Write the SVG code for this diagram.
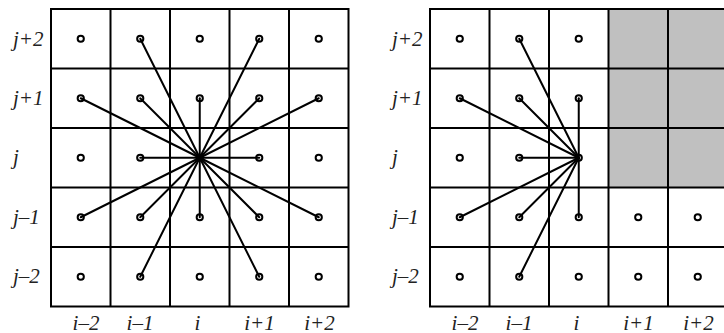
<svg xmlns="http://www.w3.org/2000/svg" width="724" height="333" viewBox="0 0 724 333">
<style>
.g{fill:none;stroke:#000;stroke-width:2}
.c{fill:#fff;stroke:#000;stroke-width:2}
.l{stroke:#000;stroke-width:2;stroke-linecap:round}
.t{font-family:"Liberation Serif","Times New Roman",serif;font-style:italic;font-size:21px;fill:#222}
.m{text-anchor:middle}
</style>
<defs>
<g id="grid">
<path class="g" d="M0,0H297.5V297.5H0Z M59.5,0V297.5 M119,0V297.5 M178.5,0V297.5 M238,0V297.5 M0,59.5H297.5 M0,119H297.5 M0,178.5H297.5 M0,238H297.5"/>
</g>
<circle id="dot" r="3.1" class="c"/>
</defs>
<g id="left-grid">
<use href="#grid" x="51" y="9"/>
<g id="left-dots">
<use href="#dot" x="80.75" y="38.75"/><use href="#dot" x="140.25" y="38.75"/><use href="#dot" x="199.75" y="38.75"/><use href="#dot" x="259.25" y="38.75"/><use href="#dot" x="318.75" y="38.75"/>
<use href="#dot" x="80.75" y="98.25"/><use href="#dot" x="140.25" y="98.25"/><use href="#dot" x="199.75" y="98.25"/><use href="#dot" x="259.25" y="98.25"/><use href="#dot" x="318.75" y="98.25"/>
<use href="#dot" x="80.75" y="157.75"/><use href="#dot" x="140.25" y="157.75"/><use href="#dot" x="199.75" y="157.75"/><use href="#dot" x="259.25" y="157.75"/><use href="#dot" x="318.75" y="157.75"/>
<use href="#dot" x="80.75" y="217.25"/><use href="#dot" x="140.25" y="217.25"/><use href="#dot" x="199.75" y="217.25"/><use href="#dot" x="259.25" y="217.25"/><use href="#dot" x="318.75" y="217.25"/>
<use href="#dot" x="80.75" y="276.75"/><use href="#dot" x="140.25" y="276.75"/><use href="#dot" x="199.75" y="276.75"/><use href="#dot" x="259.25" y="276.75"/><use href="#dot" x="318.75" y="276.75"/>
</g>
</g>
<g id="right-grid">
<rect x="608.5" y="9" width="119" height="178.5" fill="#c0c0c0"/>
<use href="#grid" x="430" y="9"/>
<g id="right-dots">
<use href="#dot" x="459.75" y="38.75"/><use href="#dot" x="519.25" y="38.75"/><use href="#dot" x="578.75" y="38.75"/>
<use href="#dot" x="459.75" y="98.25"/><use href="#dot" x="519.25" y="98.25"/><use href="#dot" x="578.75" y="98.25"/>
<use href="#dot" x="459.75" y="157.75"/><use href="#dot" x="519.25" y="157.75"/><use href="#dot" x="578.75" y="157.75"/>
<use href="#dot" x="459.75" y="217.25"/><use href="#dot" x="519.25" y="217.25"/><use href="#dot" x="578.75" y="217.25"/><use href="#dot" x="638.25" y="217.25"/><use href="#dot" x="697.75" y="217.25"/>
<use href="#dot" x="459.75" y="276.75"/><use href="#dot" x="519.25" y="276.75"/><use href="#dot" x="578.75" y="276.75"/><use href="#dot" x="638.25" y="276.75"/><use href="#dot" x="697.75" y="276.75"/>
</g>
</g>
<g id="connectors">
<g id="left-connectors" class="l">
<line x1="199.75" y1="157.75" x2="140.25" y2="38.75"/>
<line x1="199.75" y1="157.75" x2="259.25" y2="38.75"/>
<line x1="199.75" y1="157.75" x2="80.75" y2="98.25"/>
<line x1="199.75" y1="157.75" x2="140.25" y2="98.25"/>
<line x1="199.75" y1="157.75" x2="199.75" y2="98.25"/>
<line x1="199.75" y1="157.75" x2="259.25" y2="98.25"/>
<line x1="199.75" y1="157.75" x2="318.75" y2="98.25"/>
<line x1="199.75" y1="157.75" x2="140.25" y2="157.75"/>
<line x1="199.75" y1="157.75" x2="259.25" y2="157.75"/>
<line x1="199.75" y1="157.75" x2="80.75" y2="217.25"/>
<line x1="199.75" y1="157.75" x2="140.25" y2="217.25"/>
<line x1="199.75" y1="157.75" x2="199.75" y2="217.25"/>
<line x1="199.75" y1="157.75" x2="259.25" y2="217.25"/>
<line x1="199.75" y1="157.75" x2="318.75" y2="217.25"/>
<line x1="199.75" y1="157.75" x2="140.25" y2="276.75"/>
<line x1="199.75" y1="157.75" x2="259.25" y2="276.75"/>
</g>
<g id="right-connectors" class="l">
<line x1="578.75" y1="157.75" x2="519.25" y2="38.75"/>
<line x1="578.75" y1="157.75" x2="459.75" y2="98.25"/>
<line x1="578.75" y1="157.75" x2="519.25" y2="98.25"/>
<line x1="578.75" y1="157.75" x2="578.75" y2="98.25"/>
<line x1="578.75" y1="157.75" x2="519.25" y2="157.75"/>
<line x1="578.75" y1="157.75" x2="459.75" y2="217.25"/>
<line x1="578.75" y1="157.75" x2="519.25" y2="217.25"/>
<line x1="578.75" y1="157.75" x2="578.75" y2="217.25"/>
<line x1="578.75" y1="157.75" x2="519.25" y2="276.75"/>
</g>
</g>
<g id="left-labels" class="t">
<text x="13" y="45.5">j+2</text>
<text x="13" y="104.5">j+1</text>
<text x="13" y="164">j</text>
<text x="13" y="223.5">j–1</text>
<text x="13" y="283">j–2</text>
<text class="m" x="86" y="329.5">i–2</text>
<text class="m" x="140" y="329.5">i–1</text>
<text class="m" x="197.5" y="329.5">i</text>
<text class="m" x="259.5" y="329.5">i+1</text>
<text class="m" x="319.5" y="329.5">i+2</text>
</g>
<g id="right-labels" class="t">
<text x="392" y="45.5">j+2</text>
<text x="392" y="104.5">j+1</text>
<text x="392" y="164">j</text>
<text x="392" y="223.5">j–1</text>
<text x="392" y="283">j–2</text>
<text class="m" x="465" y="329.5">i–2</text>
<text class="m" x="519" y="329.5">i–1</text>
<text class="m" x="576.5" y="329.5">i</text>
<text class="m" x="638.5" y="329.5">i+1</text>
<text class="m" x="698.5" y="329.5">i+2</text>
</g>
</svg>
